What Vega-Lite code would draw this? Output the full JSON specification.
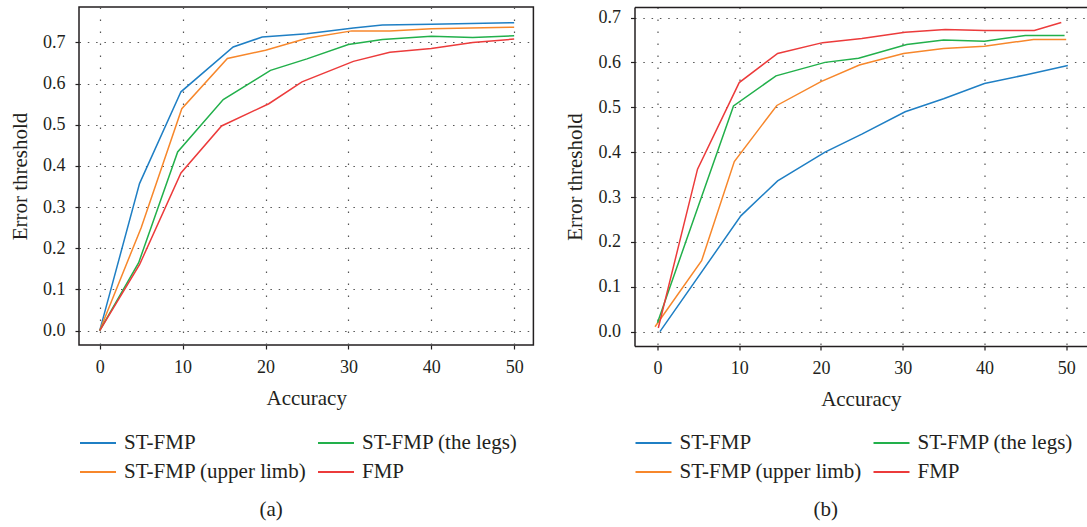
{
  "$schema": "https://vega.github.io/schema/vega-lite/v6.json",
  "background": "white",
  "padding": {"left": 8, "top": 6, "right": 0, "bottom": 0},
  "autosize": {"type": "pad"},
  "config": {
    "font": "Liberation Serif",
    "view": {"stroke": "#231f20", "strokeWidth": 1.5},
    "axis": {
      "labelFont": "Liberation Serif", "titleFont": "Liberation Serif",
      "labelFontSize": 18, "titleFontSize": 21, "titleFontWeight": "normal",
      "labelColor": "#231f20", "titleColor": "#231f20",
      "domain": false, "domainColor": "#231f20", "domainWidth": 1.5,
      "tickColor": "#231f20", "tickSize": 4, "tickWidth": 1.2,
      "gridColor": "#555555", "gridWidth": 1.2, "gridOpacity": 1,
      "labelPadding": 10, "titlePadding": 12.5
    },
    "axisX": {"gridDash": [1.5, 10.5], "labelPadding": 9, "titlePadding": 11},
    "axisY": {"gridDash": [1.5, 6.8]},
    "legend": {
      "orient": "none", "legendX": 0, "legendY": 417,
      "columns": 2, "columnPadding": 7, "rowPadding": -8,
      "symbolType": "stroke", "symbolSize": 1296, "symbolStrokeWidth": 2,
      "labelFont": "Liberation Serif", "labelFontSize": 21, "labelColor": "#231f20",
      "labelOffset": 7, "labelLimit": 400
    },
    "title": {"font": "Liberation Serif", "fontSize": 21, "fontWeight": "normal", "color": "#231f20", "orient": "bottom", "anchor": "middle", "frame": "bounds", "offset": 17}
  },
  "datasets": {
    "a": [
      {"series": "ST-FMP", "x": 0, "y": 0}, {"series": "ST-FMP", "x": 4.8, "y": 0.357}, {"series": "ST-FMP", "x": 9.8, "y": 0.58}, {"series": "ST-FMP", "x": 16.1, "y": 0.689}, {"series": "ST-FMP", "x": 19.6, "y": 0.713}, {"series": "ST-FMP", "x": 25, "y": 0.721}, {"series": "ST-FMP", "x": 30.6, "y": 0.735}, {"series": "ST-FMP", "x": 34.1, "y": 0.742}, {"series": "ST-FMP", "x": 40, "y": 0.744}, {"series": "ST-FMP", "x": 50, "y": 0.748},
      {"series": "ST-FMP (upper limb)", "x": 0, "y": 0}, {"series": "ST-FMP (upper limb)", "x": 5, "y": 0.25}, {"series": "ST-FMP (upper limb)", "x": 9.9, "y": 0.539}, {"series": "ST-FMP (upper limb)", "x": 15.4, "y": 0.661}, {"series": "ST-FMP (upper limb)", "x": 20, "y": 0.681}, {"series": "ST-FMP (upper limb)", "x": 25, "y": 0.71}, {"series": "ST-FMP (upper limb)", "x": 30.4, "y": 0.728}, {"series": "ST-FMP (upper limb)", "x": 35, "y": 0.728}, {"series": "ST-FMP (upper limb)", "x": 40, "y": 0.733}, {"series": "ST-FMP (upper limb)", "x": 50, "y": 0.737},
      {"series": "ST-FMP (the legs)", "x": 0, "y": 0}, {"series": "ST-FMP (the legs)", "x": 4.7, "y": 0.165}, {"series": "ST-FMP (the legs)", "x": 9.4, "y": 0.434}, {"series": "ST-FMP (the legs)", "x": 14.9, "y": 0.561}, {"series": "ST-FMP (the legs)", "x": 20.6, "y": 0.632}, {"series": "ST-FMP (the legs)", "x": 25, "y": 0.66}, {"series": "ST-FMP (the legs)", "x": 30, "y": 0.695}, {"series": "ST-FMP (the legs)", "x": 34.1, "y": 0.707}, {"series": "ST-FMP (the legs)", "x": 40, "y": 0.715}, {"series": "ST-FMP (the legs)", "x": 45, "y": 0.712}, {"series": "ST-FMP (the legs)", "x": 50, "y": 0.716},
      {"series": "FMP", "x": 0, "y": 0}, {"series": "FMP", "x": 4.8, "y": 0.16}, {"series": "FMP", "x": 9.8, "y": 0.383}, {"series": "FMP", "x": 14.7, "y": 0.497}, {"series": "FMP", "x": 20.4, "y": 0.551}, {"series": "FMP", "x": 24.4, "y": 0.604}, {"series": "FMP", "x": 30.6, "y": 0.654}, {"series": "FMP", "x": 35, "y": 0.676}, {"series": "FMP", "x": 40, "y": 0.685}, {"series": "FMP", "x": 45, "y": 0.7}, {"series": "FMP", "x": 50, "y": 0.708}
    ],
    "b": [
      {"series": "ST-FMP", "x": 0.3, "y": 0}, {"series": "ST-FMP", "x": 10.2, "y": 0.258}, {"series": "ST-FMP", "x": 14.7, "y": 0.336}, {"series": "ST-FMP", "x": 20.5, "y": 0.4}, {"series": "ST-FMP", "x": 25, "y": 0.44}, {"series": "ST-FMP", "x": 30.3, "y": 0.49}, {"series": "ST-FMP", "x": 35, "y": 0.519}, {"series": "ST-FMP", "x": 40, "y": 0.553}, {"series": "ST-FMP", "x": 45, "y": 0.572}, {"series": "ST-FMP", "x": 50.2, "y": 0.593},
      {"series": "ST-FMP (upper limb)", "x": -0.3, "y": 0.011}, {"series": "ST-FMP (upper limb)", "x": 5.4, "y": 0.158}, {"series": "ST-FMP (upper limb)", "x": 9.4, "y": 0.379}, {"series": "ST-FMP (upper limb)", "x": 14.6, "y": 0.504}, {"series": "ST-FMP (upper limb)", "x": 20, "y": 0.557}, {"series": "ST-FMP (upper limb)", "x": 24.7, "y": 0.594}, {"series": "ST-FMP (upper limb)", "x": 30.1, "y": 0.62}, {"series": "ST-FMP (upper limb)", "x": 35, "y": 0.631}, {"series": "ST-FMP (upper limb)", "x": 40, "y": 0.636}, {"series": "ST-FMP (upper limb)", "x": 46, "y": 0.651}, {"series": "ST-FMP (upper limb)", "x": 50, "y": 0.651},
      {"series": "ST-FMP (the legs)", "x": 0, "y": 0.02}, {"series": "ST-FMP (the legs)", "x": 5, "y": 0.28}, {"series": "ST-FMP (the legs)", "x": 9.3, "y": 0.503}, {"series": "ST-FMP (the legs)", "x": 14.5, "y": 0.57}, {"series": "ST-FMP (the legs)", "x": 20.5, "y": 0.6}, {"series": "ST-FMP (the legs)", "x": 24.6, "y": 0.609}, {"series": "ST-FMP (the legs)", "x": 30.5, "y": 0.64}, {"series": "ST-FMP (the legs)", "x": 35, "y": 0.65}, {"series": "ST-FMP (the legs)", "x": 40, "y": 0.647}, {"series": "ST-FMP (the legs)", "x": 45, "y": 0.66}, {"series": "ST-FMP (the legs)", "x": 49.8, "y": 0.66},
      {"series": "FMP", "x": 0.1, "y": 0.008}, {"series": "FMP", "x": 4.9, "y": 0.362}, {"series": "FMP", "x": 10, "y": 0.555}, {"series": "FMP", "x": 14.7, "y": 0.62}, {"series": "FMP", "x": 20.2, "y": 0.644}, {"series": "FMP", "x": 25, "y": 0.653}, {"series": "FMP", "x": 30.3, "y": 0.667}, {"series": "FMP", "x": 35.2, "y": 0.673}, {"series": "FMP", "x": 40, "y": 0.671}, {"series": "FMP", "x": 46.1, "y": 0.671}, {"series": "FMP", "x": 49.4, "y": 0.689}
    ]
  },
  "spacing": 29.5,
  "resolve": {"scale": {"color": "independent"}},
  "hconcat": [
    {
      "width": 454.4, "height": 338,
      "title": {"text": "(a)"},
      "data": {"name": "a"},
      "mark": {"type": "line", "strokeWidth": 1.5, "clip": true},
      "encoding": {
        "x": {"field": "x", "type": "quantitative", "title": "Accuracy",
              "scale": {"domain": [-2.5, 52.32], "nice": false, "zero": false},
              "axis": {"values": [0, 10, 20, 30, 40, 50], "format": "d"}},
        "y": {"field": "y", "type": "quantitative", "title": "Error threshold",
              "scale": {"domain": [-0.035, 0.786], "nice": false, "zero": false},
              "axis": {"values": [0, 0.1, 0.2, 0.3, 0.4, 0.5, 0.6, 0.7], "format": ".1f"}},
        "color": {"field": "series", "type": "nominal", "title": null,
                  "scale": {"domain": ["ST-FMP", "ST-FMP (upper limb)", "ST-FMP (the legs)", "FMP"],
                            "range": ["#1f7fc4", "#f7872b", "#22b04b", "#ec3b3b"]}},
        "order": {"field": "x", "type": "quantitative"}
      }
    },
    {
      "width": 452.7, "height": 339,
      "title": {"text": "(b)"},
      "view": {"stroke": null},
      "data": {"name": "b"},
      "resolve": {"axis": {"x": "independent"}},
      "layer": [
        {
          "mark": {"type": "line", "strokeWidth": 1.5, "clip": true},
          "encoding": {
            "x": {"field": "x", "type": "quantitative", "title": "Accuracy",
                  "scale": {"domain": [-2.81, 52.57], "nice": false, "zero": false},
                  "axis": {"values": [0, 10, 20, 30, 40, 50], "format": "d", "domain": true}},
            "y": {"field": "y", "type": "quantitative", "title": "Error threshold",
                  "scale": {"domain": [-0.032, 0.7234], "nice": false, "zero": false},
                  "axis": {"values": [0, 0.1, 0.2, 0.3, 0.4, 0.5, 0.6, 0.7], "format": ".1f", "domain": true}},
            "color": {"field": "series", "type": "nominal", "title": null,
                      "scale": {"domain": ["ST-FMP", "ST-FMP (upper limb)", "ST-FMP (the legs)", "FMP"],
                                "range": ["#1f7fc4", "#f7872b", "#22b04b", "#ec3b3b"]}},
            "order": {"field": "x", "type": "quantitative"}
          }
        },
        {
          "mark": {"type": "line", "strokeOpacity": 0},
          "encoding": {
            "x": {"field": "x", "type": "quantitative",
                  "scale": {"domain": [-2.81, 52.57], "nice": false, "zero": false},
                  "axis": {"orient": "top", "domain": true, "labels": false, "ticks": false, "grid": false, "title": null}},
            "y": {"field": "y", "type": "quantitative"}
          }
        }
      ]
    }
  ]
}
